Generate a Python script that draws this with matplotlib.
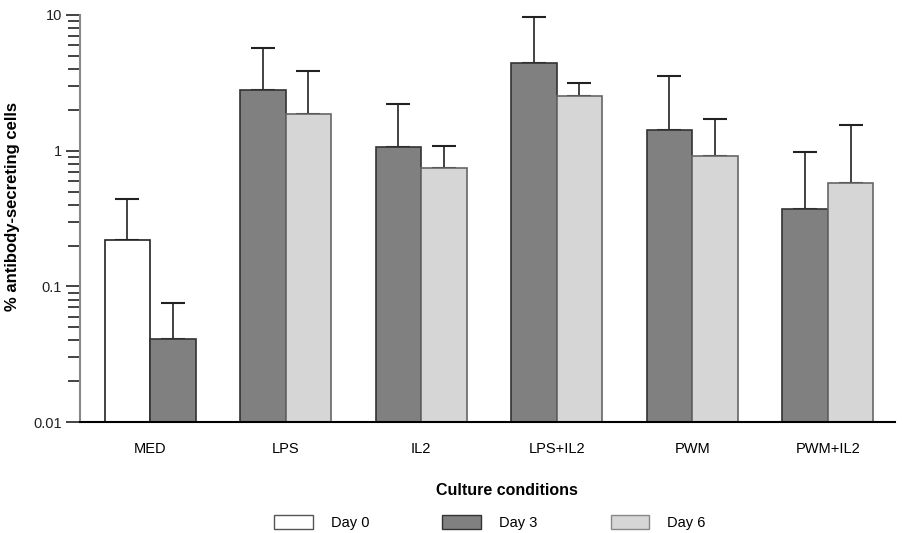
import matplotlib
matplotlib.use('Agg')
import matplotlib.pyplot as plt
from matplotlib.patches import Patch
import numpy as np

plt.rcParams['font.family'] = ['Liberation Sans', 'DejaVu Sans']

# data (log scale)
conditions = ['MED', 'LPS', 'IL2', 'LPS+IL2', 'PWM', 'PWM+IL2']
day0     = [0.22, None, None, None, None, None]
day0_top = [0.44, None, None, None, None, None]   # top of error bar
day3     = [0.041, 2.8, 1.06, 4.45, 1.42, 0.373]
day3_top = [0.0755, 5.75, 2.2, 9.7, 3.55, 0.98]
day6     = [None, 1.85, 0.75, 2.52, 0.92, 0.578]
day6_top = [None, 3.85, 1.09, 3.14, 1.70, 1.54]

fig = plt.figure(figsize=(9.14, 5.33), dpi=100)
ax = fig.add_axes([0.0875, 0.208, 0.892, 0.764])

x = np.arange(len(conditions))
w = 0.336
base = 0.01
ekw = dict(elinewidth=1.2, capthick=1.5, capsize=8.6, ecolor='#222222')


def draw(xpos, val, top, face, edge):
    ax.bar(xpos, val - base, bottom=base, width=w, color=face,
           edgecolor=edge, linewidth=1.2, zorder=2)
    ax.errorbar(xpos, val, yerr=[[0], [top - val]], fmt='none', zorder=1, **ekw)


for i in range(len(conditions)):
    if day0[i] is not None:
        draw(x[i] - w / 2, day0[i], day0_top[i], 'white', '#222222')
        draw(x[i] + w / 2, day3[i], day3_top[i], '#808080', '#333333')
    else:
        draw(x[i] - w / 2, day3[i], day3_top[i], '#808080', '#333333')
        draw(x[i] + w / 2, day6[i], day6_top[i], '#d6d6d6', '#666666')

ax.set_yscale('log')
ax.set_ylim(0.01, 10)
ax.set_xlim(-0.517, 5.498)
ax.set_yticks([0.01, 0.1, 1, 10])
ax.set_yticklabels(['0.01', '0.1', '1', '10'])
ax.set_xticks(x)
ax.set_xticklabels(conditions)

for s in ['top', 'right']:
    ax.spines[s].set_visible(False)
ax.spines['left'].set_color('#888888')
ax.spines['left'].set_linewidth(1.5)
ax.spines['bottom'].set_color('black')
ax.spines['bottom'].set_linewidth(1.5)

ax.tick_params(axis='y', which='major', length=10, width=1.2, colors='#222222',
               labelsize=10.5, pad=3)
ax.tick_params(axis='y', which='minor', length=9, width=1.2, colors='#222222')
ax.tick_params(axis='x', length=0, labelsize=10.5, pad=14)

ax.set_ylabel('% antibody-secreting cells', fontsize=12, fontweight='bold')
ax.yaxis.set_label_coords(-0.074, 0.53)
ax.set_xlabel('Culture conditions', fontsize=11.5, fontweight='bold')
ax.xaxis.set_label_coords(0.524, -0.15)

handles = [Patch(facecolor='white', edgecolor='#555555', label='Day 0'),
           Patch(facecolor='#808080', edgecolor='#333333', label='Day 3'),
           Patch(facecolor='#d6d6d6', edgecolor='#888888', label='Day 6')]
fig.legend(handles=handles, loc='center', bbox_to_anchor=(0.536, 0.02), ncol=3,
           frameon=False, fontsize=10.5, handlelength=2.67, handleheight=1.1,
           columnspacing=5.0, handletextpad=1.23)

plt.savefig('out.png', dpi=100)
